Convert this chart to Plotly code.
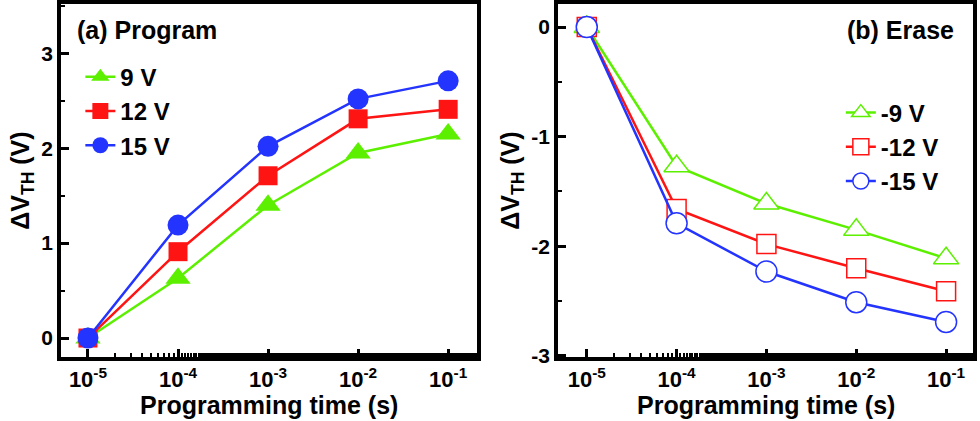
import plotly.graph_objects as go

# programming time (s)
times = [1e-5, 1e-4, 1e-3, 1e-2, 1e-1]
tick_text = ["10<sup>-5</sup>", "10<sup>-4</sup>", "10<sup>-3</sup>", "10<sup>-2</sup>", "10<sup>-1</sup>"]

# (a) program, delta VTH (V)
prog_9v = [0.0, 0.63, 1.40, 1.95, 2.15]
prog_12v = [0.0, 0.91, 1.71, 2.31, 2.41]
prog_15v = [0.0, 1.19, 2.02, 2.52, 2.71]

# (b) erase, delta VTH (V)
erase_9v = [0.0, -1.27, -1.61, -1.85, -2.11]
erase_12v = [0.0, -1.66, -1.98, -2.20, -2.41]
erase_15v = [0.0, -1.79, -2.23, -2.51, -2.69]

yticks_a = [0, 1, 2, 3]
yticks_b = [0, -1, -2, -3]

GREEN = "#5cf000"
RED = "#ff1414"
BLUE = "#2434ff"
FONT = "Liberation Sans"

fig = go.Figure()

for name, vals, col, sym, sz in [("9 V", prog_9v, GREEN, "triangle-up", 22),
                                 ("12 V", prog_12v, RED, "square", 19),
                                 ("15 V", prog_15v, BLUE, "circle", 21)]:
    fig.add_trace(go.Scatter(x=times, y=vals, name=name, mode="lines+markers",
                             line=dict(color=col, width=2.5),
                             marker=dict(symbol=sym, size=sz, color=col),
                             xaxis="x", yaxis="y", legend="legend"))

for name, vals, col, sym, sz in [("-9 V", erase_9v, GREEN, "triangle-up", 22),
                                 ("-12 V", erase_12v, RED, "square", 19),
                                 ("-15 V", erase_15v, BLUE, "circle", 21)]:
    fig.add_trace(go.Scatter(x=times, y=vals, name=name, mode="lines+markers",
                             line=dict(color=col, width=2.5),
                             marker=dict(symbol=sym, size=sz, color="white",
                                         line=dict(color=col, width=1.5)),
                             xaxis="x2", yaxis="y2", legend="legend2"))

xtickfont = dict(family=FONT, size=22, color="black", weight="bold")
ytickfont = dict(family=FONT, size=21, color="black", weight="bold")
titlefont = dict(family=FONT, size=25, color="black", weight="bold")
legfont = dict(family=FONT, size=24, color="black", weight="bold")

xcommon = dict(type="log", tickvals=times, ticktext=tick_text, tickfont=xtickfont,
               ticks="inside", ticklen=8, tickwidth=3, tickcolor="black",
               minor=dict(ticks="inside", ticklen=4, tickwidth=2, tickcolor="black"),
               showline=True, linewidth=3.5, linecolor="black", mirror=True,
               showgrid=False, zeroline=False, automargin=False)
ycommon = dict(tickfont=ytickfont,
               ticks="inside", ticklen=8, tickwidth=3, tickcolor="black",
               minor=dict(ticks="inside", ticklen=4, tickwidth=2, dtick=0.5, tickcolor="black"),
               showline=True, linewidth=3.5, linecolor="black", mirror=True,
               showgrid=False, zeroline=False, automargin=False,
               title=dict(text="ΔV<sub>TH</sub> (V)", font=titlefont, standoff=6))

fig.update_layout(
    template="none",
    width=980, height=421,
    margin=dict(l=0, r=0, t=0, b=0),
    paper_bgcolor="white", plot_bgcolor="white",
    xaxis=dict(xcommon, domain=[0.0622, 0.4867], range=[-5.3, -0.68], anchor="y"),
    yaxis=dict(ycommon, domain=[0.152, 0.9905], range=[-0.2, 3.52], anchor="x",
               tickvals=yticks_a, ticktext=[str(v) for v in yticks_a]),
    xaxis2=dict(xcommon, domain=[0.5694, 0.9929], range=[-5.32, -0.70], anchor="y2"),
    yaxis2=dict(ycommon, domain=[0.152, 0.9905], range=[-3.01, 0.21], anchor="x2",
                tickvals=yticks_b, ticktext=[str(v) for v in yticks_b]),
    legend=dict(x=0.082, y=0.87, xanchor="left", yanchor="top", bgcolor="rgba(0,0,0,0)",
                font=legfont, tracegroupgap=0),
    legend2=dict(x=0.858, y=0.785, xanchor="left", yanchor="top", bgcolor="rgba(0,0,0,0)",
                 font=legfont, tracegroupgap=0),
    annotations=[
        dict(text="(a) Program", x=0.077, y=0.929, xref="paper", yref="paper",
             xanchor="left", yanchor="middle", showarrow=False, font=titlefont),
        dict(text="(b) Erase", x=0.975, y=0.929, xref="paper", yref="paper",
             xanchor="right", yanchor="middle", showarrow=False, font=titlefont),
        dict(text="Programming time (s)", x=0.5, y=0.039, xref="x domain", yref="paper",
             xanchor="center", yanchor="middle", showarrow=False, font=titlefont),
        dict(text="Programming time (s)", x=0.5, y=0.039, xref="x2 domain", yref="paper",
             xanchor="center", yanchor="middle", showarrow=False, font=titlefont),
    ],
)

fig.write_html("out.html", config={"displayModeBar": False},
               post_script="document.body.style.margin='0';")
